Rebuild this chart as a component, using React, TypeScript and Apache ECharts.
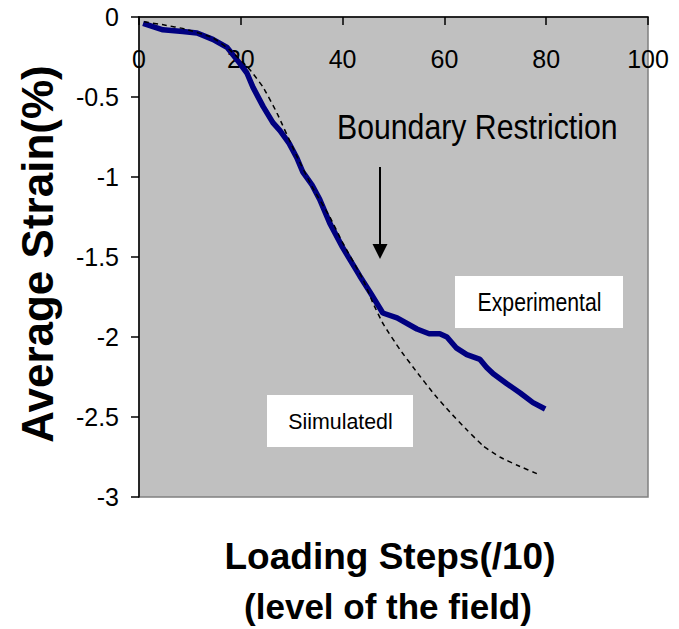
import React, { useEffect, useRef } from "react";
import * as echarts from "echarts";

const expX = [0.8, 4.7, 8.6, 11.4, 14.5, 17.3, 19.8, 21.2, 22.4, 24.4, 26.3, 27.7, 29.5, 31, 32.2, 34, 35.5, 37.5, 40, 43.4, 45.4, 47.9, 50.7, 54.6, 57, 59.1, 60.5, 62.4, 64.4, 67, 68.3, 69.6, 72.2, 74.9, 77.4, 79.8];
const expY = [-0.04, -0.08, -0.09, -0.1, -0.14, -0.19, -0.29, -0.35, -0.44, -0.56, -0.66, -0.71, -0.79, -0.88, -0.97, -1.05, -1.14, -1.29, -1.44, -1.62, -1.72, -1.85, -1.88, -1.95, -1.98, -1.98, -2.0, -2.07, -2.11, -2.14, -2.19, -2.23, -2.29, -2.35, -2.41, -2.45];

const simX = [1, 5, 9, 14.5, 18, 21.8, 24.4, 27.1, 31, 34, 37.5, 40, 44, 46, 48, 51.3, 54.6, 57.8, 61.1, 64.4, 67.6, 70.9, 74.2, 78.6];
const simY = [-0.03, -0.05, -0.075, -0.13, -0.21, -0.33, -0.44, -0.6, -0.87, -1.06, -1.25, -1.41, -1.64, -1.79, -1.92, -2.08, -2.22, -2.35, -2.47, -2.58, -2.68, -2.75, -2.8, -2.86];

const xTitle = "Loading Steps(/10)";
const xSubTitle = "(level of the field)";
const yTitle = "Average Strain(%)";
const annotation = "Boundary Restriction";
const expLabel = "Experimental";
const simLabel = "Siimulatedl";

const FONT = '"Liberation Sans", Arial, sans-serif';

export default function App() {
  const ref = useRef<HTMLDivElement>(null);
  useEffect(() => {
    if (!ref.current) return;
    const chart = echarts.init(ref.current, null, { renderer: "svg" });
    const expData = expX.map((x, i) => [x, expY[i]]);
    const simData = simX.map((x, i) => [x, simY[i]]);
    chart.setOption({
      animation: false,
      backgroundColor: "#ffffff",
      grid: {
        left: 139,
        top: 17,
        width: 509,
        height: 480,
        show: true,
        backgroundColor: "#c0c0c0",
        borderColor: "#808080",
        borderWidth: 1.5,
      },
      xAxis: {
        type: "value",
        position: "top",
        min: 0,
        max: 100,
        interval: 20,
        axisLine: { show: true, onZero: false, lineStyle: { color: "#000", width: 1.5 } },
        axisTick: { show: true, inside: true, length: 8, lineStyle: { color: "#000", width: 1.5 } },
        axisLabel: { inside: true, margin: 29, color: "#000", fontSize: 25, fontFamily: FONT },
        splitLine: { show: false },
      },
      yAxis: {
        type: "value",
        min: -3,
        max: 0,
        interval: 0.5,
        axisLine: { show: true, onZero: false, lineStyle: { color: "#000", width: 1.5 } },
        axisTick: { show: true, inside: false, length: 8, lineStyle: { color: "#000", width: 1.5 } },
        axisLabel: { margin: 20, color: "#000", fontSize: 25, fontFamily: FONT },
        splitLine: { show: false },
      },
      series: [
        {
          name: "Simulated",
          type: "line",
          data: simData,
          symbol: "none",
          smooth: 0.15,
          lineStyle: { color: "#000", width: 1.5, type: [5, 4] },
          z: 3,
        },
        {
          name: "Experimental",
          type: "line",
          data: expData,
          symbol: "none",
          lineStyle: { color: "#000080", width: 5.5 },
          z: 2,
        },
      ],
      graphic: [
        {
          type: "text",
          x: 337,
          y: 127,
          scaleX: 0.84,
          style: { text: annotation, font: `36px ${FONT}`, fill: "#000", textAlign: "left", textVerticalAlign: "middle" },
        },
        { type: "line", shape: { x1: 380, y1: 167, x2: 380, y2: 248 }, style: { stroke: "#000", lineWidth: 2 } },
        { type: "polygon", shape: { points: [[372.5, 244], [387.5, 244], [380, 259]] }, style: { fill: "#000" } },
        { type: "rect", shape: { x: 455, y: 276, width: 168, height: 52 }, style: { fill: "#fff" } },
        {
          type: "text",
          x: 539.5,
          y: 302,
          scaleX: 0.85,
          style: { text: expLabel, font: `25px ${FONT}`, fill: "#000", textAlign: "center", textVerticalAlign: "middle" },
        },
        { type: "rect", shape: { x: 267, y: 395, width: 146, height: 52 }, style: { fill: "#fff" } },
        {
          type: "text",
          x: 340.5,
          y: 421,
          scaleX: 0.93,
          style: { text: simLabel, font: `23px ${FONT}`, fill: "#000", textAlign: "center", textVerticalAlign: "middle" },
        },
        {
          type: "text",
          x: 37,
          y: 254,
          rotation: Math.PI / 2,
          style: { text: yTitle, font: `bold 44px ${FONT}`, fill: "#000", textAlign: "center", textVerticalAlign: "middle" },
        },
        {
          type: "text",
          x: 390,
          y: 556,
          style: { text: xTitle, font: `bold 37px ${FONT}`, fill: "#000", textAlign: "center", textVerticalAlign: "middle" },
        },
        {
          type: "text",
          x: 388,
          y: 606,
          style: { text: xSubTitle, font: `bold 35px ${FONT}`, fill: "#000", textAlign: "center", textVerticalAlign: "middle" },
        },
      ],
    });
    return () => chart.dispose();
  }, []);
  return <div ref={ref} style={{ position: "fixed", left: 0, top: 0, width: 679, height: 629 }} />;
}
